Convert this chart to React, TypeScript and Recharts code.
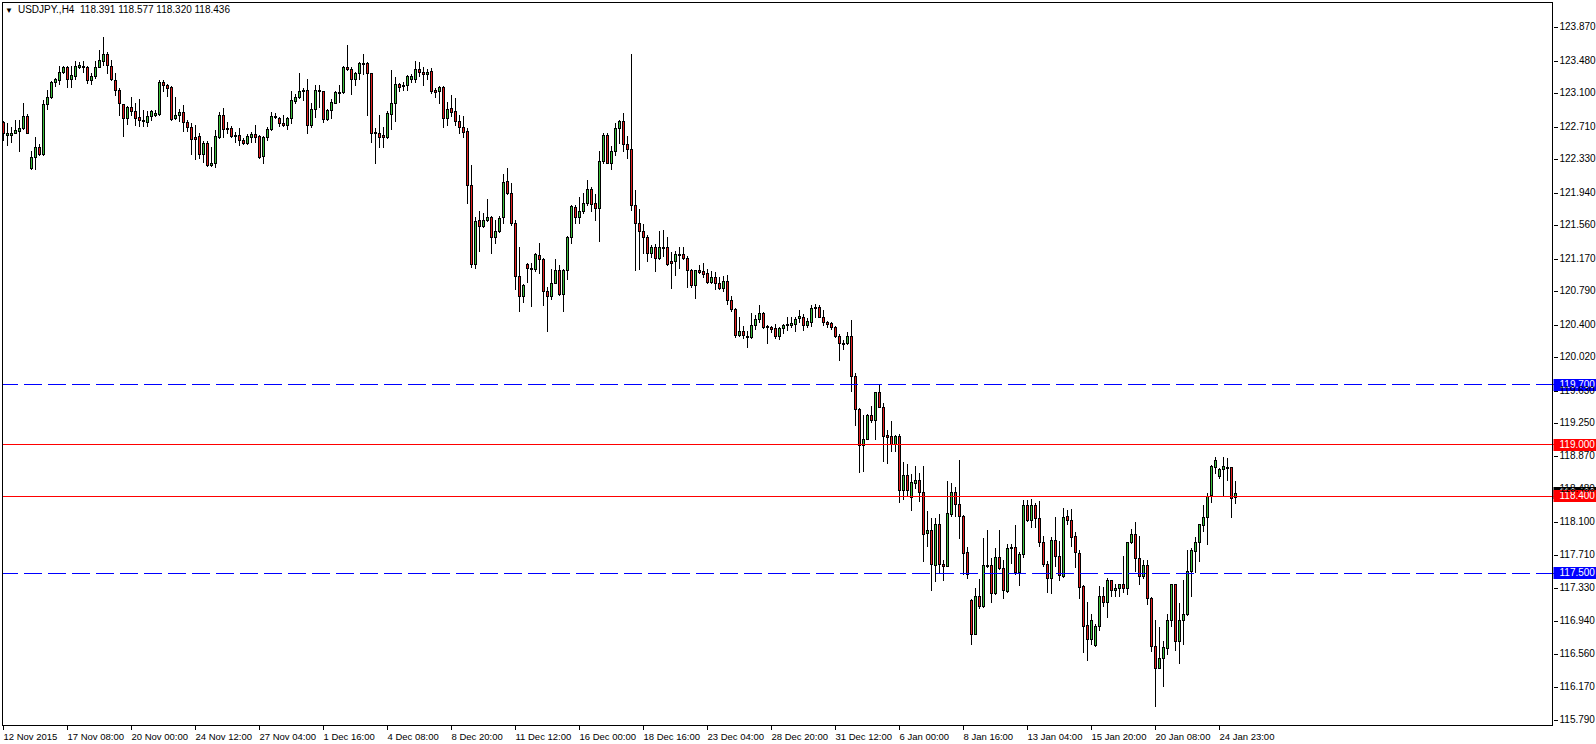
import { Bar, ComposedChart, ReferenceLine, XAxis, YAxis } from 'recharts'

// USDJPY H4 candles
const OPEN = [
  122.76, 122.61, 122.61, 122.64, 122.66, 122.69, 122.83, 122.23, 122.36, 122.47,
  122.39, 122.97, 123.05, 123.23, 123.25, 123.35, 123.40, 123.26, 123.30, 123.41,
  123.42, 123.41, 123.25, 123.30, 123.41, 123.48, 123.56, 123.42, 123.25, 123.14,
  122.97, 122.81, 122.94, 122.89, 122.82, 122.79, 122.76, 122.83, 122.84, 122.86,
  123.23, 123.19, 123.17, 122.81, 122.84, 122.88, 122.76, 122.70, 122.59, 122.60,
  122.39, 122.52, 122.26, 122.29, 122.59, 122.85, 122.69, 122.69, 122.61, 122.61,
  122.55, 122.52, 122.59, 122.62, 122.60, 122.37, 122.59, 122.68, 122.83, 122.81,
  122.75, 122.73, 122.81, 123.01, 123.06, 123.14, 123.14, 122.73, 122.92, 123.14,
  123.12, 122.80, 122.90, 122.99, 123.11, 123.11, 123.40, 123.38, 123.27, 123.33,
  123.45, 123.45, 123.33, 122.64, 122.64, 122.61, 122.59, 122.86, 122.99, 123.21,
  123.20, 123.19, 123.27, 123.27, 123.38, 123.35, 123.32, 123.36, 123.14, 123.12,
  123.17, 122.81, 122.93, 122.89, 122.77, 122.70, 122.66, 122.03, 121.11, 121.62,
  121.55, 121.62, 121.66, 121.42, 121.49, 121.65, 122.07, 121.94, 121.58, 120.97,
  120.73, 121.11, 121.06, 121.05, 121.21, 121.17, 120.79, 120.73, 120.89, 121.04,
  120.76, 121.04, 121.42, 121.77, 121.65, 121.72, 121.82, 121.98, 121.82, 121.76,
  122.31, 122.61, 122.29, 122.42, 122.69, 122.77, 122.51, 122.45, 121.80, 121.59,
  121.49, 121.42, 121.24, 121.30, 121.18, 121.31, 121.31, 121.14, 121.14, 121.22,
  121.22, 121.18, 121.04, 120.86, 121.04, 121.02, 121.00, 120.90, 120.96, 120.89,
  120.83, 120.91, 120.69, 120.58, 120.28, 120.32, 120.27, 120.25, 120.39, 120.46,
  120.54, 120.38, 120.37, 120.36, 120.27, 120.36, 120.41, 120.40, 120.41, 120.48,
  120.49, 120.39, 120.43, 120.59, 120.61, 120.49, 120.43, 120.42, 120.37, 120.27,
  120.19, 120.18, 120.27, 119.80, 119.42, 118.99, 119.07, 119.35, 119.29, 119.61,
  119.44, 119.11, 119.10, 119.01, 119.10, 118.47, 118.65, 118.39, 118.55, 118.59,
  118.45, 117.97, 118.01, 117.60, 118.07, 117.61, 117.59, 118.19, 118.45, 118.31,
  118.17, 117.75, 117.19, 116.79, 117.24, 117.12, 117.60, 117.60, 117.27, 117.69,
  117.56, 117.29, 117.79, 117.81, 117.51, 117.72, 118.30, 118.12, 118.29, 118.15,
  117.87, 117.61, 117.45, 117.89, 117.70, 117.47, 118.17, 118.12, 117.93, 117.74,
  117.35, 116.90, 116.73, 116.66, 116.89, 117.24, 117.17, 117.42, 117.31, 117.33,
  117.38, 117.33, 117.86, 117.96, 117.68, 117.47, 117.60, 117.21, 116.65, 116.40,
  116.51, 116.63, 116.96, 117.37, 116.71, 116.96, 117.02, 117.53, 117.76, 117.87,
  118.06, 118.16, 118.41, 118.74, 118.63, 118.72, 118.74, 118.74, 118.391,
]

const HIGH = [
  122.78, 122.75, 122.71, 122.79, 122.79, 122.98, 122.86, 122.43, 122.59, 122.51,
  123.02, 123.14, 123.24, 123.28, 123.42, 123.42, 123.42, 123.42, 123.48, 123.46,
  123.47, 123.42, 123.33, 123.47, 123.60, 123.75, 123.58, 123.49, 123.33, 123.16,
  122.97, 122.95, 123.05, 122.98, 123.03, 122.90, 122.89, 122.90, 122.90, 123.25,
  123.25, 123.21, 123.18, 123.05, 122.92, 122.96, 122.79, 122.75, 122.73, 122.63,
  122.54, 122.54, 122.47, 122.67, 122.88, 122.93, 122.76, 122.72, 122.65, 122.69,
  122.58, 122.62, 122.65, 122.73, 122.61, 122.60, 122.70, 122.88, 122.87, 122.82,
  122.84, 122.82, 123.13, 123.09, 123.33, 123.16, 123.27, 122.99, 123.19, 123.19,
  123.13, 122.92, 123.03, 123.13, 123.20, 123.42, 123.66, 123.40, 123.35, 123.46,
  123.56, 123.46, 123.34, 122.69, 122.84, 122.71, 122.89, 123.37, 123.29, 123.22,
  123.23, 123.31, 123.32, 123.47, 123.46, 123.40, 123.38, 123.39, 123.16, 123.18,
  123.18, 123.00, 123.08, 123.04, 122.84, 122.83, 122.69, 122.26, 121.65, 121.73,
  121.70, 121.86, 121.67, 121.62, 121.67, 122.16, 122.23, 122.05, 121.62, 121.30,
  120.87, 121.12, 121.12, 121.23, 121.35, 121.18, 120.84, 121.05, 121.17, 121.09,
  121.05, 121.43, 121.79, 121.79, 121.89, 121.93, 122.09, 122.00, 121.92, 122.42,
  122.63, 122.63, 122.48, 122.75, 122.79, 122.87, 122.60, 123.56, 121.97, 121.75,
  121.57, 121.44, 121.33, 121.34, 121.49, 121.50, 121.42, 121.25, 121.26, 121.30,
  121.30, 121.20, 121.05, 121.04, 121.09, 121.12, 121.05, 121.03, 121.01, 120.95,
  120.97, 120.98, 120.73, 120.59, 120.49, 120.38, 120.33, 120.54, 120.51, 120.63,
  120.55, 120.40, 120.38, 120.41, 120.37, 120.41, 120.49, 120.49, 120.49, 120.57,
  120.52, 120.48, 120.63, 120.64, 120.63, 120.57, 120.44, 120.43, 120.38, 120.29,
  120.22, 120.31, 120.45, 119.83, 119.43, 119.35, 119.36, 119.45, 119.61, 119.69,
  119.48, 119.17, 119.28, 119.11, 119.12, 118.80, 118.77, 118.66, 118.75, 118.67,
  118.75, 118.23, 118.15, 118.15, 118.19, 117.66, 118.58, 118.55, 118.51, 118.82,
  118.18, 117.81, 117.20, 117.33, 117.43, 117.91, 118.01, 117.68, 117.80, 118.01,
  117.66, 117.84, 117.84, 118.06, 117.75, 118.35, 118.35, 118.37, 118.32, 118.34,
  117.93, 117.64, 117.92, 118.16, 117.88, 118.26, 118.24, 118.25, 117.98, 117.77,
  117.36, 117.16, 117.03, 116.91, 117.35, 117.34, 117.44, 117.42, 117.38, 117.38,
  117.70, 117.87, 118.02, 118.10, 117.93, 117.66, 117.66, 117.22, 116.95, 116.87,
  116.71, 117.03, 117.37, 117.37, 117.15, 117.42, 117.77, 117.79, 117.92, 118.08,
  118.30, 118.43, 118.76, 118.86, 118.73, 118.86, 118.84, 118.74, 118.577,
]

const LOW = [
  122.55, 122.49, 122.53, 122.63, 122.42, 122.68, 122.63, 122.22, 122.22, 122.38,
  122.38, 122.91, 123.04, 123.18, 123.21, 123.33, 123.17, 123.17, 123.26, 123.39,
  123.35, 123.22, 123.21, 123.28, 123.40, 123.43, 123.33, 123.25, 123.08, 122.84,
  122.60, 122.74, 122.84, 122.73, 122.72, 122.72, 122.72, 122.79, 122.83, 122.84,
  123.12, 123.07, 122.79, 122.80, 122.77, 122.66, 122.66, 122.39, 122.33, 122.34,
  122.30, 122.25, 122.25, 122.24, 122.58, 122.59, 122.64, 122.59, 122.53, 122.49,
  122.51, 122.51, 122.53, 122.53, 122.34, 122.29, 122.55, 122.67, 122.81, 122.72,
  122.72, 122.68, 122.75, 122.98, 123.04, 123.02, 122.63, 122.71, 122.82, 122.94,
  122.76, 122.79, 122.81, 122.98, 123.00, 123.10, 123.37, 123.09, 123.20, 123.27,
  123.32, 122.84, 122.53, 122.29, 122.47, 122.47, 122.58, 122.68, 122.77, 123.13,
  123.14, 123.14, 123.23, 123.23, 123.30, 123.19, 123.26, 123.10, 123.05, 122.99,
  122.71, 122.73, 122.83, 122.73, 122.63, 122.59, 121.82, 121.07, 121.06, 121.26,
  121.54, 121.61, 121.23, 121.35, 121.48, 121.59, 121.92, 121.56, 120.82, 120.56,
  120.66, 120.90, 120.62, 121.02, 121.00, 120.63, 120.33, 120.70, 120.89, 120.74,
  120.56, 120.93, 121.35, 121.58, 121.58, 121.70, 121.79, 121.72, 121.62, 121.37,
  122.28, 122.28, 122.21, 122.38, 122.52, 122.42, 122.34, 121.74, 121.04, 121.05,
  121.24, 121.14, 121.19, 121.03, 121.17, 121.20, 121.10, 120.83, 120.98, 121.06,
  121.16, 120.84, 120.84, 120.71, 121.00, 120.95, 120.88, 120.89, 120.82, 120.81,
  120.79, 120.64, 120.56, 120.25, 120.27, 120.24, 120.14, 120.24, 120.35, 120.43,
  120.36, 120.19, 120.31, 120.24, 120.23, 120.30, 120.34, 120.37, 120.33, 120.43,
  120.34, 120.37, 120.38, 120.49, 120.49, 120.40, 120.37, 120.35, 120.26, 119.99,
  120.11, 120.17, 119.63, 119.23, 118.68, 118.69, 119.06, 119.26, 119.07, 119.44,
  118.81, 118.78, 118.92, 118.93, 118.33, 118.37, 118.40, 118.24, 118.49, 118.34,
  117.64, 117.82, 117.30, 117.41, 117.50, 117.42, 117.58, 118.17, 118.17, 117.91,
  117.49, 117.44, 116.68, 116.79, 117.09, 117.11, 117.57, 117.17, 117.26, 117.55,
  117.21, 117.28, 117.62, 117.49, 117.36, 117.69, 118.11, 118.04, 118.04, 117.82,
  117.58, 117.28, 117.27, 117.58, 117.42, 117.46, 118.08, 117.82, 117.57, 117.21,
  116.58, 116.49, 116.67, 116.65, 116.84, 117.12, 116.99, 117.24, 117.23, 117.24,
  117.28, 117.26, 117.85, 117.53, 117.38, 117.45, 117.14, 116.59, 115.95, 116.40,
  116.18, 116.56, 116.89, 116.60, 116.45, 116.68, 117.01, 117.24, 117.52, 117.64,
  117.99, 117.84, 118.33, 118.67, 118.61, 118.41, 118.59, 118.16, 118.32,
]

const CLOSE = [
  122.63, 122.63, 122.64, 122.67, 122.69, 122.83, 122.64, 122.36, 122.47, 122.39,
  122.97, 123.05, 123.23, 123.26, 123.35, 123.40, 123.26, 123.31, 123.42, 123.43,
  123.41, 123.25, 123.30, 123.41, 123.49, 123.56, 123.43, 123.26, 123.14, 122.98,
  122.81, 122.94, 122.89, 122.81, 122.79, 122.77, 122.83, 122.89, 122.87, 123.23,
  123.19, 123.16, 122.80, 122.84, 122.88, 122.76, 122.70, 122.57, 122.57, 122.39,
  122.52, 122.26, 122.29, 122.60, 122.85, 122.68, 122.68, 122.60, 122.61, 122.55,
  122.52, 122.60, 122.62, 122.59, 122.36, 122.59, 122.68, 122.83, 122.83, 122.75,
  122.73, 122.81, 123.02, 123.06, 123.13, 123.14, 122.73, 122.92, 123.14, 123.12,
  122.80, 122.90, 123.00, 123.11, 123.11, 123.40, 123.38, 123.27, 123.33, 123.45,
  123.45, 123.33, 122.64, 122.65, 122.59, 122.59, 122.87, 122.99, 123.21, 123.17,
  123.20, 123.30, 123.30, 123.38, 123.35, 123.32, 123.35, 123.13, 123.11, 123.17,
  122.81, 122.92, 122.88, 122.77, 122.70, 122.65, 122.03, 121.11, 121.61, 121.55,
  121.62, 121.66, 121.42, 121.49, 121.64, 122.06, 121.94, 121.58, 120.97, 120.73,
  120.86, 121.06, 121.06, 121.22, 121.17, 120.79, 120.73, 120.89, 121.04, 120.76,
  121.04, 121.42, 121.78, 121.65, 121.72, 121.82, 121.98, 121.81, 121.76, 122.31,
  122.61, 122.29, 122.42, 122.69, 122.77, 122.51, 122.45, 121.80, 121.59, 121.49,
  121.42, 121.24, 121.30, 121.18, 121.31, 121.31, 121.11, 121.12, 121.22, 121.22,
  121.18, 121.04, 120.86, 121.04, 121.01, 120.99, 120.90, 120.96, 120.89, 120.83,
  120.91, 120.69, 120.58, 120.28, 120.32, 120.28, 120.25, 120.39, 120.46, 120.54,
  120.37, 120.37, 120.35, 120.27, 120.36, 120.40, 120.41, 120.42, 120.47, 120.50,
  120.40, 120.44, 120.59, 120.61, 120.49, 120.43, 120.41, 120.37, 120.27, 120.19,
  120.19, 120.27, 119.80, 119.41, 118.99, 119.07, 119.35, 119.29, 119.61, 119.44,
  119.10, 119.09, 119.01, 119.10, 118.47, 118.65, 118.47, 118.56, 118.59, 118.45,
  117.96, 118.01, 117.61, 118.07, 117.61, 117.58, 118.20, 118.45, 118.31, 118.17,
  117.74, 117.49, 116.79, 117.24, 117.12, 117.60, 117.60, 117.27, 117.69, 117.56,
  117.31, 117.79, 117.81, 117.51, 117.72, 118.29, 118.12, 118.29, 118.15, 117.86,
  117.61, 117.45, 117.89, 117.70, 117.48, 118.16, 118.12, 117.92, 117.75, 117.34,
  116.89, 116.73, 116.95, 116.89, 117.24, 117.17, 117.42, 117.31, 117.33, 117.38,
  117.33, 117.86, 117.96, 117.68, 117.47, 117.60, 117.21, 116.65, 116.40, 116.51,
  116.64, 116.96, 117.37, 116.71, 116.96, 117.02, 117.53, 117.77, 117.87, 118.07,
  118.16, 118.40, 118.75, 118.82, 118.72, 118.75, 118.74, 118.38, 118.436,
]

const X_TICK_BARS = [0, 16, 32, 48, 64, 80, 96, 112, 128, 144, 160, 176, 192, 208, 224, 240, 256, 272, 288, 304]
const X_TICK_LABELS = [
  '12 Nov 2015', '17 Nov 08:00', '20 Nov 00:00', '24 Nov 12:00', '27 Nov 04:00',
  '1 Dec 16:00', '4 Dec 08:00', '8 Dec 20:00', '11 Dec 12:00', '16 Dec 00:00',
  '18 Dec 16:00', '23 Dec 04:00', '28 Dec 20:00', '31 Dec 12:00', '6 Jan 00:00',
  '8 Jan 16:00', '13 Jan 04:00', '15 Jan 20:00', '20 Jan 08:00', '24 Jan 23:00',
]

const Y_TICKS = [
  123.87, 123.48, 123.1, 122.71, 122.33, 121.94, 121.56, 121.17, 120.79, 120.4, 120.02,
  119.63, 119.25, 118.87, 118.48, 118.1, 117.71, 117.33, 116.94, 116.56, 116.17, 115.79,
]

// horizontal levels drawn on the chart
const LEVEL_PRICES = [119.7, 119.0, 118.4, 117.5]
const LEVEL_KINDS = ['resistance', 'support', 'support', 'resistance']
const BID_PRICE = 118.436

const SYMBOL = 'USDJPY.,H4'
const LAST_OHLC = [118.391, 118.577, 118.32, 118.436]

const SLOTS = 388
const Y_MIN = 115.718
const Y_MAX = 124.163
const AXIS_X = 1553.5
const FONT = '"Liberation Sans", Arial, sans-serif'
const UP_FILL = '#3cbf3c'
const DOWN_FILL = '#e41e1e'

const LEVEL_STYLE: Record<string, { stroke: string; dash?: string; tag: string }> = {
  resistance: { stroke: '#0000ff', dash: '18 6', tag: '#0000ff' },
  support: { stroke: '#ff0000', tag: '#ff0000' },
}

type Row = { idx: number; open?: number; high?: number; low?: number; close?: number }

const rows: Row[] = Array.from({ length: SLOTS }, (_, i) =>
  i < OPEN.length ? { idx: i, open: OPEN[i], high: HIGH[i], low: LOW[i], close: CLOSE[i] } : { idx: i },
)

function Candle(props: any) {
  const { x, width, y, height, payload } = props
  if (payload == null || payload.high == null) return null
  const { open, high, low, close } = payload as Required<Row>
  const top0 = Math.min(y, y + height)
  const k = Math.abs(height) / (high - low)
  const yOf = (p: number) => top0 + (high - p) * k
  const cx = Math.floor(x + width / 2) + 0.5
  const bodyTop = Math.round(yOf(Math.max(open, close))) + 0.5
  let bodyBot = Math.round(yOf(Math.min(open, close))) + 0.5
  if (bodyBot - bodyTop < 1) bodyBot = bodyTop + 1
  const fill = close > open ? UP_FILL : close < open ? DOWN_FILL : '#000'
  return (
    <g shapeRendering="crispEdges">
      <line x1={cx} x2={cx} y1={Math.round(yOf(high))} y2={Math.round(yOf(low)) + 1} stroke="#000" strokeWidth={1} />
      <rect x={cx - 1} y={bodyTop} width={2} height={bodyBot - bodyTop} fill={fill} stroke="#000" strokeWidth={1} />
    </g>
  )
}

function XTick({ x, y, payload }: any) {
  const i = X_TICK_BARS.indexOf(payload.value)
  if (i < 0) return null
  const px = Math.floor(x) + 0.5
  return (
    <g>
      <line x1={px} x2={px} y1={y} y2={y + 4} stroke="#000" shapeRendering="crispEdges" />
      <text x={px} y={y + 11} fontSize={9.5} fontFamily={FONT} fill="#000" dominantBaseline="middle">
        {X_TICK_LABELS[i]}
      </text>
    </g>
  )
}

function YTick({ y, payload }: any) {
  const py = Math.round(y) + 0.5
  return (
    <g>
      <line x1={AXIS_X} x2={AXIS_X + 4} y1={py} y2={py} stroke="#000" shapeRendering="crispEdges" />
      <text x={AXIS_X + 6} y={py} fontSize={10} fontFamily={FONT} fill="#000" dominantBaseline="middle">
        {payload.value.toFixed(3)}
      </text>
    </g>
  )
}

function tagLabel(price: number, bg: string) {
  return (props: any) => {
    const vb = props.viewBox
    if (!vb) return null
    const cy = Math.round(vb.y)
    const left = vb.x + vb.width
    return (
      <g>
        <rect x={left} y={cy - 6} width={1596 - left} height={12} fill={bg} />
        <text x={AXIS_X + 6} y={cy + 0.5} fontSize={10} fontFamily={FONT} fill="#fff" dominantBaseline="middle">
          {price.toFixed(3)}
        </text>
      </g>
    )
  }
}

export default function App() {
  return (
    <div style={{ position: 'absolute', left: 0, top: 0, width: 1596, height: 744, background: '#fff' }}>
      <ComposedChart
        width={1596}
        height={744}
        data={rows}
        margin={{ top: 2, right: 0, bottom: 0, left: 1.5 }}
      >
        <XAxis
          dataKey="idx"
          type="category"
          ticks={X_TICK_BARS}
          interval={0}
          tick={<XTick />}
          tickLine={false}
          axisLine={false}
          tickSize={0}
          tickMargin={0}
          height={18}
        />
        <YAxis
          orientation="right"
          type="number"
          domain={[Y_MIN, Y_MAX]}
          ticks={Y_TICKS}
          allowDataOverflow
          interval={0}
          tick={<YTick />}
          tickLine={false}
          axisLine={false}
          tickSize={0}
          tickMargin={0}
          width={1596 - AXIS_X}
        />
        <ReferenceLine y={BID_PRICE} stroke="none" label={tagLabel(BID_PRICE, '#000')} />
        {LEVEL_PRICES.map((p, i) => {
          const s = LEVEL_STYLE[LEVEL_KINDS[i]]
          return (
            <ReferenceLine
              key={p}
              y={p}
              stroke={s.stroke}
              strokeWidth={1}
              strokeDasharray={s.dash}
              shapeRendering="crispEdges"
              label={tagLabel(p, s.tag)}
            />
          )
        })}
        <Bar
          dataKey={(d: Row) => (d.high != null ? [d.low, d.high] : null)}
          shape={<Candle />}
          isAnimationActive={false}
        />
      </ComposedChart>
      <div
        style={{
          position: 'absolute',
          left: 2,
          top: 2,
          width: 1551,
          height: 724,
          border: '1px solid #000',
          boxSizing: 'border-box',
          pointerEvents: 'none',
        }}
      />
      <div
        style={{
          position: 'absolute',
          left: 5,
          top: 3,
          fontFamily: FONT,
          fontSize: 10,
          color: '#000',
          whiteSpace: 'pre',
          lineHeight: '14px',
        }}
      >
        <span style={{ fontSize: 8, marginRight: 5 }}>▼</span>
        {SYMBOL}  {LAST_OHLC.map((v) => v.toFixed(3)).join(' ')}
      </div>
    </div>
  )
}
